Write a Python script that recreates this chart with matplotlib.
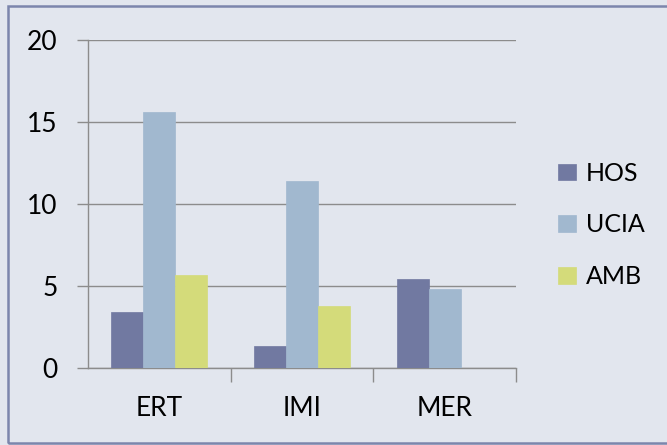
import matplotlib
matplotlib.use("Agg")
import matplotlib.pyplot as plt
import numpy as np
from matplotlib.patches import Rectangle

categories = ["ERT", "IMI", "MER"]
series_names = ["HOS", "UCIA", "AMB"]
hos = [3.4, 1.35, 5.4]
ucia = [15.6, 11.4, 4.8]
amb = [5.65, 3.8, 0.0]
yticks = [0, 5, 10, 15, 20]

colors = ["#7179A1", "#A1B8CF", "#D4DB7A"]
bg = "#E2E6EE"

plt.rcParams['font.family'] = ['Lato', 'DejaVu Sans']

fig = plt.figure(figsize=(6.67, 4.45), dpi=100, facecolor=bg)
W, H = 667, 445
ax = fig.add_axes([88 / W, 1 - 368 / H, (516 - 88) / W, (368 - 40) / H])
ax.set_facecolor(bg)

x = np.arange(len(categories))
bw = 0.224
for i, (name, vals) in enumerate(zip(series_names, [hos, ucia, amb])):
    ax.bar(x + (i - 1) * bw, vals, width=bw, color=colors[i], label=name,
           edgecolor=colors[i], linewidth=0.5, zorder=3)

fs = 19
ax.set_xlim(-0.5, 2.5)
ax.set_ylim(0, 20)
ax.set_yticks(yticks)
ax.set_yticklabels([str(t) for t in yticks], fontsize=fs)
ax.yaxis.grid(True, color="#8C8C8C", linewidth=1.0, zorder=0)
ax.set_xticks(x)
ax.set_xticklabels(categories, fontsize=fs)
ax.tick_params(axis='x', length=0, pad=20)
ax.set_xticks([0.5, 1.5, 2.5], minor=True)
ax.tick_params(axis='x', which='minor', length=10, color="#8C8C8C", width=1)
ax.tick_params(axis='y', length=8, color="#8C8C8C", width=1, pad=14)
for s in ["top", "right"]:
    ax.spines[s].set_visible(False)
for s in ["left", "bottom"]:
    ax.spines[s].set_color("#8C8C8C")
    ax.spines[s].set_linewidth(1.0)

leg = ax.legend(loc="center left", bbox_to_anchor=(558 / W, 1 - 225 / H),
                bbox_transform=fig.transFigure, frameon=False, fontsize=fs - 1,
                handlelength=0.72, handleheight=0.65, labelspacing=1.15,
                handletextpad=0.4, borderpad=0, borderaxespad=0)

fig.patches.append(Rectangle((8 / W, 1 - 443 / H), (680 - 8) / W, (443 - 6) / H,
                             transform=fig.transFigure, fill=False,
                             edgecolor="#7C86AC", linewidth=1.8))

fig.savefig("out.png", dpi=100, facecolor=bg)
